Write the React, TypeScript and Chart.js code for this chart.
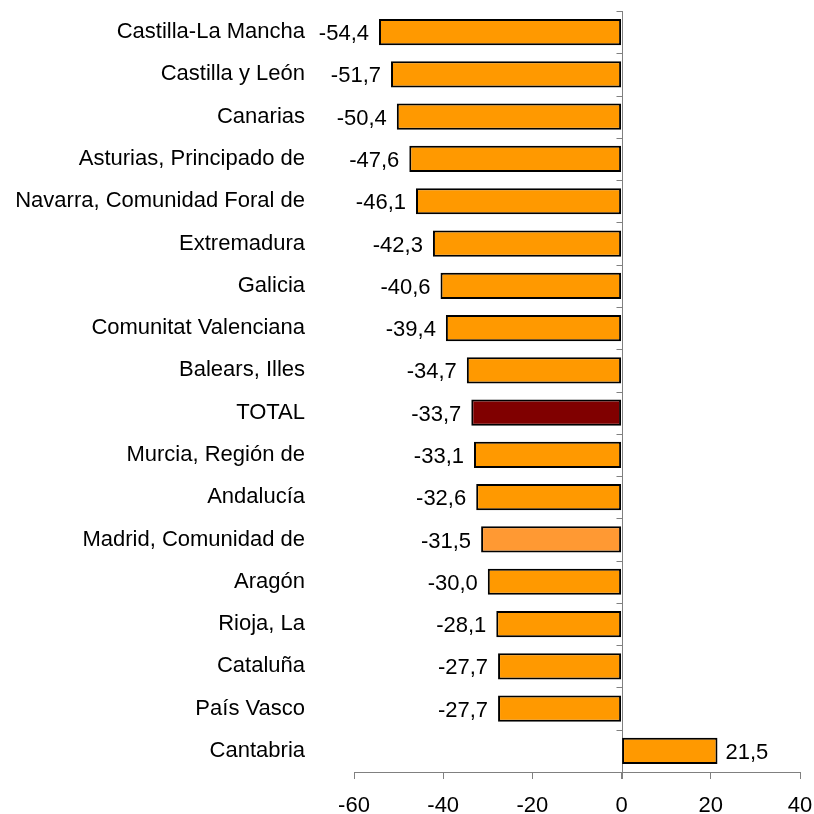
import React, { useEffect, useRef } from "react";
import { Chart, registerables } from "chart.js";

Chart.register(...registerables);

const categories = [
  "Castilla-La Mancha",
  "Castilla y León",
  "Canarias",
  "Asturias, Principado de",
  "Navarra, Comunidad Foral de",
  "Extremadura",
  "Galicia",
  "Comunitat Valenciana",
  "Balears, Illes",
  "TOTAL",
  "Murcia, Región de",
  "Andalucía",
  "Madrid, Comunidad de",
  "Aragón",
  "Rioja, La",
  "Cataluña",
  "País Vasco",
  "Cantabria",
];

const values = [
  -54.4, -51.7, -50.4, -47.6, -46.1, -42.3, -40.6, -39.4, -34.7, -33.7, -33.1,
  -32.6, -31.5, -30.0, -28.1, -27.7, -27.7, 21.5,
];

const xTicks = [-60, -40, -20, 0, 20, 40];

const barColors = categories.map((c) =>
  c === "TOTAL" ? "#800000" : c === "Madrid, Comunidad de" ? "#FF9933" : "#FF9900"
);

const FONT = "'Liberation Sans', Arial, sans-serif";
const FS = 22;

const zeroLinePlugin = {
  id: "zeroLine",
  beforeDatasetsDraw(chart: any) {
    const { ctx, chartArea, scales } = chart;
    const x0 = Math.round(scales.x.getPixelForValue(0)) + 0.5;
    const n = categories.length;
    const step = (chartArea.bottom - chartArea.top) / n;
    ctx.save();
    ctx.strokeStyle = "#808080";
    ctx.lineWidth = 1;
    ctx.beginPath();
    ctx.moveTo(x0, chartArea.top);
    ctx.lineTo(x0, chartArea.bottom + 7);
    for (let i = 0; i <= n; i++) {
      const y = Math.round(chartArea.top + i * step) + 0.5;
      ctx.moveTo(x0 - 6, y);
      ctx.lineTo(x0, y);
    }
    ctx.stroke();
    ctx.restore();
  },
};

const valueLabelPlugin = {
  id: "valueLabels",
  afterDatasetsDraw(chart: any) {
    const { ctx } = chart;
    const meta = chart.getDatasetMeta(0);
    ctx.save();
    ctx.font = `${FS}px ${FONT}`;
    ctx.fillStyle = "#000";
    ctx.textBaseline = "middle";
    meta.data.forEach((bar: any, i: number) => {
      const v = values[i];
      const txt = v.toFixed(1).replace(".", ",");
      if (v < 0) {
        ctx.textAlign = "right";
        ctx.fillText(txt, bar.x - 10, bar.y + 2);
      } else {
        ctx.textAlign = "left";
        ctx.fillText(txt, bar.x + 8, bar.y + 2);
      }
    });
    ctx.restore();
  },
};

export default function App() {
  const ref = useRef<HTMLCanvasElement>(null);

  useEffect(() => {
    document.body.style.margin = "0";
    const chart = new Chart(ref.current!, {
      type: "bar",
      data: {
        labels: categories,
        datasets: [
          {
            data: values,
            backgroundColor: barColors,
            borderColor: "#000",
            borderWidth: 2,
            borderSkipped: false,
            categoryPercentage: 1,
            barPercentage: 0.62,
          },
        ],
      },
      options: {
        indexAxis: "y",
        animation: false,
        responsive: false,
        maintainAspectRatio: false,
        layout: { padding: { left: 0, top: 11, right: 14, bottom: 0 } },
        plugins: {
          legend: { display: false },
          tooltip: { enabled: false },
        },
        scales: {
          x: {
            min: -60,
            max: 40,
            afterBuildTicks: (scale: any) => {
              scale.ticks = xTicks.map((v) => ({ value: v }));
            },
            afterFit: (scale: any) => {
              scale.height = 42;
              scale.paddingLeft = 0;
              scale.paddingRight = 0;
            },
            grid: {
              display: true,
              drawOnChartArea: false,
              drawTicks: true,
              tickLength: 7,
              color: "#808080",
            },
            border: { display: true, color: "#808080" },
            ticks: {
              color: "#000",
              font: { family: FONT, size: FS },
              padding: 14,
              maxRotation: 0,
            },
          },
          y: {
            afterFit: (scale: any) => {
              scale.width = 354;
              scale.paddingTop = 0;
              scale.paddingBottom = 0;
            },
            grid: { display: false, drawTicks: false },
            border: { display: false },
            ticks: {
              color: "#000",
              font: { family: FONT, size: FS },
              padding: 49,
              autoSkip: false,
            },
          },
        },
      },
      plugins: [zeroLinePlugin, valueLabelPlugin],
    });
    return () => chart.destroy();
  }, []);

  return <canvas ref={ref} width={814} height={814} style={{ display: "block" }} />;
}
